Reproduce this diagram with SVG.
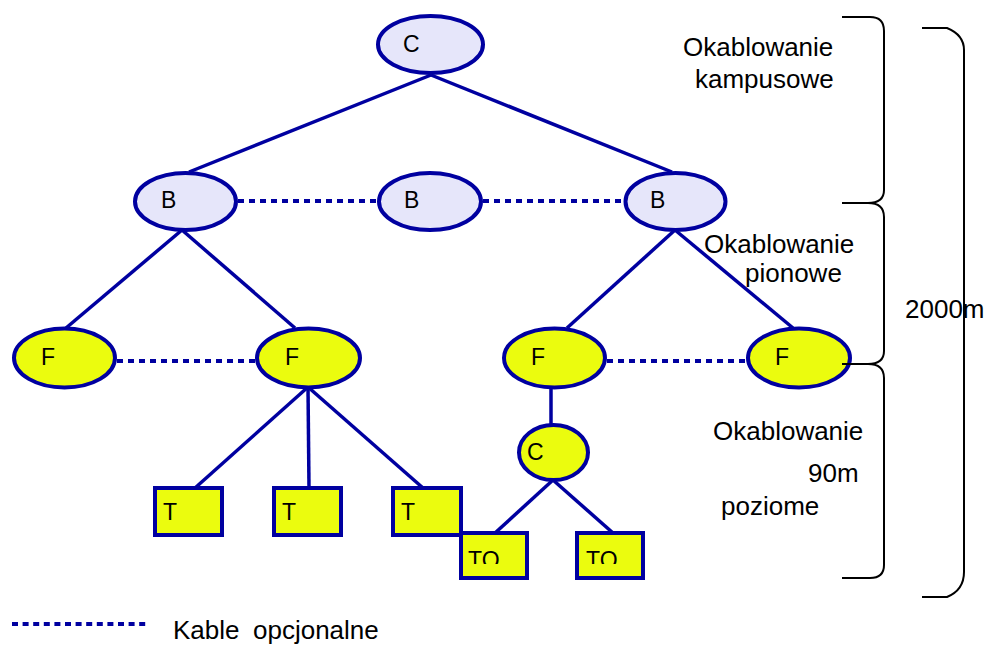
<svg xmlns="http://www.w3.org/2000/svg" width="987" height="645" viewBox="0 0 987 645">
<style>
.lav{fill:#E6E6FA;stroke:#0000A0;stroke-width:4}
.yel{fill:#EBFC0E;stroke:#0000A0;stroke-width:4}
.con{stroke:#0000A0;stroke-width:3.5;fill:none}
.opt{stroke:#0000A0;stroke-width:4;stroke-dasharray:6 5;fill:none}
.br{stroke:#000;stroke-width:2;fill:none}
.lbl{font-family:"Liberation Sans",Arial,sans-serif;font-size:23px;fill:#000}
.txt{font-family:"Liberation Sans",Arial,sans-serif;font-size:26px;fill:#000}
</style>
<defs>
<clipPath id="toclip"><rect x="0" y="0" width="987" height="564"/></clipPath>
</defs>
<rect width="987" height="645" fill="#fff"/>
<g id="connectors">
<line class="con" x1="431" y1="75" x2="189" y2="172"/>
<line class="con" x1="431" y1="75" x2="672" y2="172"/>
<line class="con" x1="182" y1="230" x2="66" y2="328"/>
<line class="con" x1="182" y1="230" x2="295" y2="328"/>
<line class="con" x1="675" y1="230" x2="567" y2="328"/>
<line class="con" x1="675" y1="230" x2="793" y2="328"/>
<line class="con" x1="308" y1="387" x2="195" y2="488"/>
<line class="con" x1="308" y1="387" x2="309" y2="488"/>
<line class="con" x1="308" y1="387" x2="423" y2="488"/>
<line class="con" x1="551" y1="387" x2="551" y2="425"/>
<line class="con" x1="553" y1="480" x2="495" y2="533"/>
<line class="con" x1="553" y1="480" x2="613" y2="533"/>
<line class="opt" x1="238" y1="201" x2="378" y2="201"/>
<line class="opt" x1="483" y1="201" x2="624" y2="201"/>
<line class="opt" x1="117" y1="361" x2="256" y2="361"/>
<line class="opt" x1="607" y1="361" x2="746" y2="361"/>
</g>
<g id="node-c-top"><ellipse class="lav" cx="430.5" cy="44.5" rx="52.5" ry="28.5"/><text class="lbl" x="403" y="52">C</text></g>
<g id="node-b1"><ellipse class="lav" cx="185.5" cy="201.5" rx="50.5" ry="28.5"/><text class="lbl" x="161" y="208">B</text></g>
<g id="node-b2"><ellipse class="lav" cx="430" cy="201.5" rx="51" ry="28.5"/><text class="lbl" x="404" y="208">B</text></g>
<g id="node-b3"><ellipse class="lav" cx="675.5" cy="201.5" rx="50" ry="28.5"/><text class="lbl" x="650" y="208">B</text></g>
<g id="node-f1"><ellipse class="yel" cx="64.5" cy="358" rx="50.5" ry="29.5"/><text class="lbl" x="41" y="365">F</text></g>
<g id="node-f2"><ellipse class="yel" cx="308.5" cy="358" rx="51.5" ry="29.5"/><text class="lbl" x="285" y="365">F</text></g>
<g id="node-f3"><ellipse class="yel" cx="554.5" cy="358" rx="50.5" ry="29.5"/><text class="lbl" x="531" y="365">F</text></g>
<g id="node-f4"><ellipse class="yel" cx="799" cy="358" rx="51" ry="29.5"/><text class="lbl" x="775" y="365">F</text></g>
<g id="node-c-small"><ellipse class="yel" cx="553.5" cy="452.5" rx="34.5" ry="27.5"/><text class="lbl" x="527" y="460">C</text></g>
<g id="node-t1"><rect class="yel" x="155" y="488" width="67" height="47"/><text class="lbl" x="163" y="520">T</text></g>
<g id="node-t2"><rect class="yel" x="274" y="488" width="67" height="47"/><text class="lbl" x="282" y="520">T</text></g>
<g id="node-t3"><rect class="yel" x="393" y="488" width="68" height="47"/><text class="lbl" x="401" y="520">T</text></g>
<g id="node-to1"><rect class="yel" x="461" y="533" width="66" height="45"/><text class="lbl" x="468" y="568" clip-path="url(#toclip)">TO</text></g>
<g id="node-to2"><rect class="yel" x="577" y="533" width="66" height="45"/><text class="lbl" x="586" y="568" clip-path="url(#toclip)">TO</text></g>
<g id="brackets">
<path class="br" d="M842,17 H870 Q884,17 884,31 V190 Q884,203 868,203 H842"/>
<path class="br" d="M868,203 Q884,203 884,217 V351 Q884,364 868,364 H842"/>
<path class="br" d="M868,364 Q884,364 884,378 V565 Q884,578 870,578 H842"/>
<path class="br" d="M922,28 H947 Q964,35 964,50 V572 Q964,590 947,597 H922"/>
</g>
<g id="labels">
<text class="txt" x="683" y="56">Okablowanie</text>
<text class="txt" x="695" y="88">kampusowe</text>
<text class="txt" x="704" y="253">Okablowanie</text>
<text class="txt" x="745" y="282">pionowe</text>
<text class="txt" x="905" y="318">2000m</text>
<text class="txt" x="713" y="440">Okablowanie</text>
<text class="txt" x="808" y="482">90m</text>
<text class="txt" x="721" y="515">poziome</text>
</g>
<g id="legend">
<line class="opt" x1="12" y1="624" x2="148" y2="624" style="stroke-dasharray:6 4.6"/>
<text class="txt" x="173" y="639">Kable<tspan x="253">opcjonalne</tspan></text>
</g>
</svg>
